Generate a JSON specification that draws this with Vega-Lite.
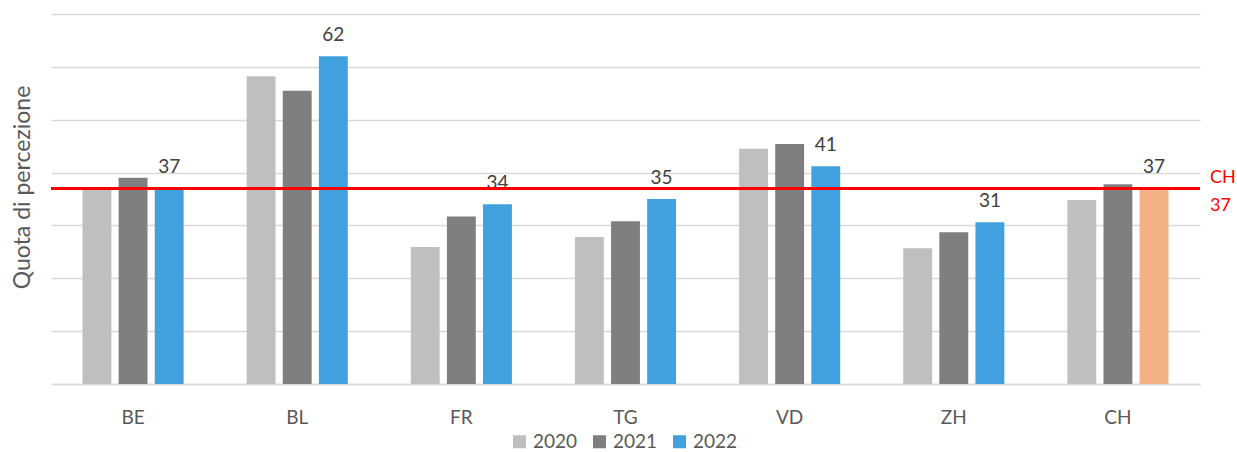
{
  "$schema": "https://vega.github.io/schema/vega-lite/v6.json",
  "autosize": "none",
  "width": 1149,
  "height": 370,
  "padding": {"left": 51, "top": 14, "right": 37, "bottom": 68},
  "background": "white",
  "config": {
    "view": {"stroke": null},
    "font": "Lato",
    "axis": {"labelFont": "Lato", "titleFont": "Lato"},
    "legend": {"labelFont": "Lato"}
  },
  "datasets": {
    "bars": [
      {"region": "BE", "year": "2020", "value": 37},
      {"region": "BE", "year": "2021", "value": 39},
      {"region": "BE", "year": "2022", "value": 37},
      {"region": "BL", "year": "2020", "value": 58.2},
      {"region": "BL", "year": "2021", "value": 55.5},
      {"region": "BL", "year": "2022", "value": 62},
      {"region": "FR", "year": "2020", "value": 25.9},
      {"region": "FR", "year": "2021", "value": 31.7},
      {"region": "FR", "year": "2022", "value": 34},
      {"region": "TG", "year": "2020", "value": 27.8},
      {"region": "TG", "year": "2021", "value": 30.8},
      {"region": "TG", "year": "2022", "value": 35},
      {"region": "VD", "year": "2020", "value": 44.5},
      {"region": "VD", "year": "2021", "value": 45.4},
      {"region": "VD", "year": "2022", "value": 41.2},
      {"region": "ZH", "year": "2020", "value": 25.7},
      {"region": "ZH", "year": "2021", "value": 28.7},
      {"region": "ZH", "year": "2022", "value": 30.6},
      {"region": "CH", "year": "2020", "value": 34.8},
      {"region": "CH", "year": "2021", "value": 37.8},
      {"region": "CH", "year": "2022", "value": 37}
    ],
    "ref": [{"region": "CH", "label": "CH\n37", "value": 37}]
  },
  "encoding": {
    "x": {
      "field": "region",
      "type": "nominal",
      "sort": ["BE", "BL", "FR", "TG", "VD", "ZH", "CH"],
      "scale": {"paddingInner": 0.34, "paddingOuter": 0.17},
      "axis": {
        "title": null,
        "labelAngle": 0,
        "labelFontSize": 19,
        "labelColor": "#595959",
        "labelPadding": 24,
        "ticks": false,
        "domainColor": "#D9D9D9",
        "domainWidth": 1.5
      }
    }
  },
  "layer": [
    {
      "data": {"name": "bars"},
      "mark": {"type": "bar"},
      "encoding": {
        "xOffset": {
          "field": "year",
          "type": "nominal",
          "scale": {"paddingInner": 0.2, "paddingOuter": 0.1}
        },
        "y": {
          "field": "value",
          "type": "quantitative",
          "scale": {"domain": [0, 70], "nice": false},
          "axis": {
            "title": "Quota di percezione",
            "titleFontSize": 23,
            "titleFontWeight": "normal",
            "titleColor": "#595959",
            "titlePadding": 17,
            "titleY": 173,
            "labels": false,
            "ticks": false,
            "domain": false,
            "values": [0, 10, 20, 30, 40, 50, 60, 70],
            "gridColor": "#D9D9D9",
            "gridWidth": 1.5
          }
        },
        "color": {
          "condition": {
            "test": "datum.region === 'CH' && datum.year === '2022'",
            "value": "#F4B183"
          },
          "field": "year",
          "type": "nominal",
          "scale": {
            "domain": ["2020", "2021", "2022"],
            "range": ["#BFBFBF", "#7F7F7F", "#41A0DE"]
          },
          "legend": {
            "title": null,
            "orient": "none",
            "legendX": 459,
            "legendY": 418,
            "direction": "horizontal",
            "symbolType": "square",
            "symbolSize": 169,
            "symbolStrokeWidth": 0,
            "labelFontSize": 19,
            "labelColor": "#595959",
            "labelOffset": 4,
            "columnPadding": 12
          }
        }
      }
    },
    {
      "data": {"name": "bars"},
      "transform": [{"filter": "datum.year === '2022'"}],
      "mark": {
        "type": "text",
        "baseline": "bottom",
        "dy": -11,
        "fontSize": 19,
        "color": "#404040"
      },
      "encoding": {
        "xOffset": {
          "field": "year",
          "type": "nominal",
          "scale": {"domain": ["2020", "2021", "2022"], "paddingInner": 0.2, "paddingOuter": 0.1}
        },
        "y": {"field": "value", "type": "quantitative"},
        "text": {"field": "value", "type": "quantitative", "format": ".0f"}
      }
    },
    {
      "data": {"name": "ref"},
      "mark": {"type": "rule", "color": "#FF0000", "strokeWidth": 3},
      "encoding": {
        "x": null,
        "y": {"field": "value", "type": "quantitative"}
      }
    },
    {
      "data": {"name": "ref"},
      "mark": {
        "type": "text",
        "color": "#FF0000",
        "fontSize": 18,
        "align": "left",
        "baseline": "middle",
        "lineBreak": "\n",
        "lineHeight": 28,
        "dx": 38,
        "dy": -10
      },
      "encoding": {
        "x": {"field": "region", "type": "nominal", "bandPosition": 1},
        "y": {"field": "value", "type": "quantitative"},
        "text": {"field": "label", "type": "nominal"}
      }
    }
  ]
}
